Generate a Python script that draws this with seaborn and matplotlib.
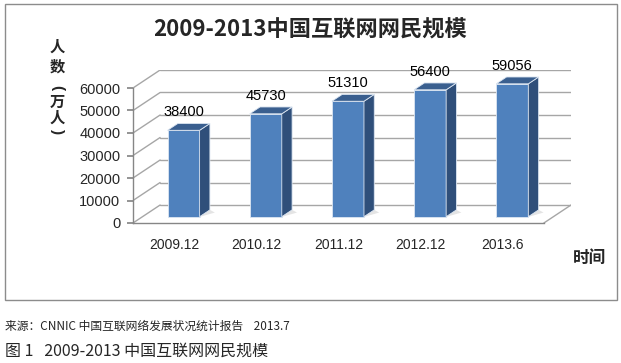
import numpy as np
import matplotlib
matplotlib.use("Agg")
import matplotlib.pyplot as plt
from matplotlib.patches import Polygon, Rectangle
import seaborn as sns

# ---------------------------------------------------------------------------
# Datos
# ---------------------------------------------------------------------------
periodos = ["2009.12", "2010.12", "2011.12", "2012.12", "2013.6"]
usuarios = [38400, 45730, 51310, 56400, 59056]
marcas_y = [0, 10000, 20000, 30000, 40000, 50000, 60000]

titulo = "2009-2013中国互联网网民规模"
etiqueta_y = ["人", "数", "(", "万", "人", ")"]
etiqueta_x = "时间"
fuente_txt = "来源：CNNIC 中国互联网络发展状况统计报告    2013.7"
pie_txt = "图 1   2009-2013 中国互联网网民规模"

# ---------------------------------------------------------------------------
# Estilo
# ---------------------------------------------------------------------------
sns.set_theme(style="white")
plt.rcParams["font.family"] = ["Liberation Sans", "Noto Sans CJK SC", "DejaVu Sans"]
CJK = ["Noto Sans CJK SC", "DejaVu Sans"]

FRENTE = "#4f81bd"
LADO = "#2f4f7a"
TAPA = "#3a5f8f"
GRIS = "#a6a6a6"
EJE = "#868686"

# profundidad del "3D" (en unidades de datos)
DX, DY = 0.33, 8000
F_BARRA, P_BARRA = 0.35, 0.38   # posición y fondo de la barra

W, H = 621, 363
fig = plt.figure(figsize=(W / 100, H / 100), dpi=100)
ax = fig.add_axes([133 / W, 140 / H, 438 / W, 153 / H])


def fx(x):
    return x / W


def fy(y):
    return 1 - y / H


# paredes: rejilla del fondo y del lateral
for v in marcas_y:
    ax.plot([-0.5 + DX, 4.5 + DX], [v + DY, v + DY], color=GRIS, lw=1, zorder=1)
    ax.plot([-0.5, -0.5 + DX], [v, v + DY], color=GRIS, lw=1, zorder=1)
ax.plot([4.5, 4.5 + DX], [0, DY], color=GRIS, lw=1, zorder=1)

# barras (cara frontal)
sns.barplot(x=periodos, y=usuarios, color=FRENTE, saturation=1, width=0.39,
            edgecolor="#dce6f2", linewidth=0.6, ax=ax, zorder=3)

for p, v in zip(ax.patches, usuarios):
    x0 = p.get_x() + F_BARRA * DX
    y0 = F_BARRA * DY
    w = p.get_width()
    p.set_x(x0)
    p.set_y(y0)
    ddx, ddy = P_BARRA * DX, P_BARRA * DY
    # sombra en el suelo
    ax.add_patch(Polygon([(x0 + w, y0), (x0 + w + ddx, y0 + ddy),
                          (x0 + w + ddx + 0.06, y0 + ddy - 1200), (x0 + w - 0.05, y0 - 600)],
                         closed=True, facecolor="#e4e4e4", edgecolor="none", zorder=2))
    # cara lateral
    ax.add_patch(Polygon([(x0 + w, y0), (x0 + w + ddx, y0 + ddy),
                          (x0 + w + ddx, y0 + v + ddy), (x0 + w, y0 + v)],
                         closed=True, facecolor=LADO, edgecolor="#dce6f2", lw=0.6, zorder=3))
    # tapa
    ax.add_patch(Polygon([(x0, y0 + v), (x0 + w, y0 + v),
                          (x0 + w + ddx, y0 + v + ddy), (x0 + ddx, y0 + v + ddy)],
                         closed=True, facecolor=TAPA, edgecolor="#dce6f2", lw=0.6, zorder=3))
    ax.annotate(str(v), xy=(x0 + w / 2, y0 + v + ddy), xytext=(0, 3),
                textcoords="offset points", ha="center", va="bottom",
                fontsize=10.5, color="black", zorder=4)

ax.set_xlim(-0.5, 4.5 + DX)
ax.set_ylim(0, 60000 + DY)
ax.set_xlabel("")
ax.set_ylabel("")

ax.set_yticks(marcas_y)
ax.set_yticklabels([str(v) for v in marcas_y], fontsize=10.5)
ax.set_xticks(range(len(periodos)))
ax.set_xticklabels(periodos, fontsize=10)
ax.set_xticks(np.arange(-0.5, len(periodos), 1), minor=True)
ax.tick_params(axis="x", which="major", length=0, pad=11)
ax.tick_params(axis="x", which="minor", length=4, color=EJE, direction="out")
ax.tick_params(axis="y", length=4, color=EJE, direction="out", pad=5, left=True)

for s in ["top", "right"]:
    ax.spines[s].set_visible(False)
ax.spines["left"].set_bounds(0, 60000)
ax.spines["bottom"].set_bounds(-0.5, 4.5)
for s in ["left", "bottom"]:
    ax.spines[s].set_color(EJE)
    ax.spines[s].set_linewidth(1)

# marco del gráfico
fig.patches.append(Rectangle((fx(5), fy(300)), fx(612), 296 / H, transform=fig.transFigure,
                             fill=False, edgecolor="#8c8c8c", lw=1))

# textos
fig.text(fx(310), fy(30), titulo, family=CJK, fontsize=16, fontweight="bold",
         ha="center", va="center")
# etiqueta vertical del eje y, un carácter por línea (paréntesis girados)
pos_y = [47, 67, 88, 102, 118, 132]
for ch, yy in zip(etiqueta_y, pos_y):
    if ch in "()":
        fig.text(fx(57), fy(yy), ch, family=["Liberation Sans"], fontsize=11,
                 fontweight="bold", ha="center", va="center", rotation=-90)
    else:
        fig.text(fx(57), fy(yy), ch, family=CJK, fontsize=11, fontweight="bold",
                 ha="center", va="center")
fig.text(fx(590), fy(258), etiqueta_x, family=CJK, fontsize=12, fontweight="bold",
         ha="center", va="center")
fig.text(fx(5), fy(326), fuente_txt, family=CJK, fontsize=8.5, ha="left", va="center")
fig.text(fx(5), fy(351), pie_txt, family=CJK, fontsize=11.5, ha="left", va="center")

fig.savefig("out.png", dpi=100)
plt.close(fig)
